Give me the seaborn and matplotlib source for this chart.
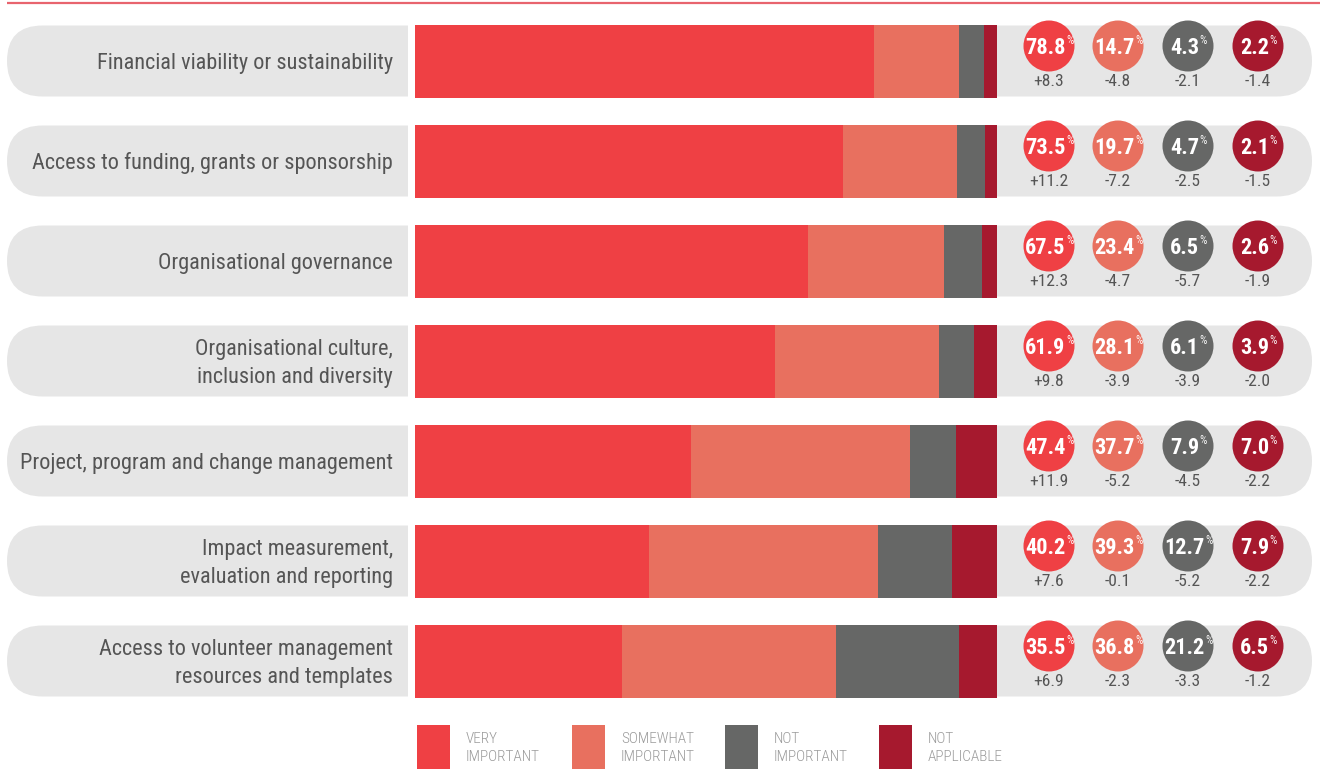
import numpy as np
import pandas as pd
import matplotlib
matplotlib.use("Agg")
import matplotlib.pyplot as plt
import seaborn as sns
from matplotlib import font_manager as fm
from matplotlib.patches import FancyBboxPatch, Rectangle, Circle

# ---------------- data ----------------
categories = [
    "Financial viability or sustainability",
    "Access to funding, grants or sponsorship",
    "Organisational governance",
    "Organisational culture,\ninclusion and diversity",
    "Project, program and change management",
    "Impact measurement,\nevaluation and reporting",
    "Access to volunteer management\nresources and templates",
]
very_important = [78.8, 73.5, 67.5, 61.9, 47.4, 40.2, 35.5]
somewhat_important = [14.7, 19.7, 23.4, 28.1, 37.7, 39.3, 36.8]
not_important = [4.3, 4.7, 6.5, 6.1, 7.9, 12.7, 21.2]
not_applicable = [2.2, 2.1, 2.6, 3.9, 7.0, 7.9, 6.5]

change_very = ["+8.3", "+11.2", "+12.3", "+9.8", "+11.9", "+7.6", "+6.9"]
change_somewhat = ["-4.8", "-7.2", "-4.7", "-3.9", "-5.2", "-0.1", "-2.3"]
change_not = ["-2.1", "-2.5", "-5.7", "-3.9", "-4.5", "-5.2", "-3.3"]
change_na = ["-1.4", "-1.5", "-1.9", "-2.0", "-2.2", "-2.2", "-1.2"]

series_labels = ["VERY\nIMPORTANT", "SOMEWHAT\nIMPORTANT", "NOT\nIMPORTANT", "NOT\nAPPLICABLE"]
colors = ["#EF4044", "#E8705F", "#666766", "#A6192E"]


def pick(fams):
    for f in fams:
        try:
            fm.findfont(fm.FontProperties(family=f), fallback_to_default=False)
            return f
        except Exception:
            pass
    return "DejaVu Sans"


sns.set_theme(style="white")
FONT = pick(["Roboto Condensed", "Roboto", "DejaVu Sans"])
plt.rcParams["font.family"] = [FONT, "DejaVu Sans"]
COND = FONT == "Roboto Condensed"

W, H = 1320, 769
fig = plt.figure(figsize=(W / 100, H / 100), dpi=100)
fig.patch.set_facecolor("white")

# background / annotation axes in pixel coordinates
bg = fig.add_axes([0, 0, 1, 1])
bg.set_xlim(0, W)
bg.set_ylim(H, 0)
bg.axis("off")

# top rule
bg.plot([7, W], [3, 3], color="#E8646E", lw=1.6, solid_capstyle="butt")

ROW0, PITCH = 61, 100
BAR_L, BAR_R = 415, 997
n = len(categories)

for i in range(n):
    cy = ROW0 + PITCH * i
    pill = FancyBboxPatch((7, cy - 35.5), 1305, 71,
                          boxstyle="round,pad=0,rounding_size=35.5",
                          fc="#E6E6E6", ec="none", zorder=1)
    bg.add_patch(pill)
    bg.add_patch(Rectangle((408, cy - 38), BAR_L - 408, 76, fc="white", ec="none", zorder=2))
    bg.text(393, cy + 2.5, categories[i], ha="right", va="center",
            fontsize=16.05 if COND else 14.5, color="#555555", linespacing=1.45, zorder=3)

# ---------------- stacked bars (seaborn) ----------------
ax = fig.add_axes([BAR_L / W, 1 - (ROW0 + PITCH * (n - 0.5)) / H,
                   (BAR_R - BAR_L) / W, PITCH * n / H])
ax.patch.set_alpha(0)
df = pd.DataFrame({
    "category": categories,
    "very": very_important,
    "somewhat": somewhat_important,
    "not": not_important,
    "na": not_applicable,
})
cum = df[["very", "somewhat", "not", "na"]].cumsum(axis=1)
for col, c in zip(["na", "not", "somewhat", "very"], colors[::-1]):
    sns.barplot(x=cum[col], y=df["category"], orient="h", color=c,
                saturation=1, width=0.73, ax=ax, linewidth=0)
ax.set_xlim(0, 100)
ax.set_ylim(n - 0.5, -0.5)
ax.axis("off")

# ---------------- circles with values and changes ----------------
circ_x = [1049, 1118, 1188, 1258]
values = [very_important, somewhat_important, not_important, not_applicable]
changes = [change_very, change_somewhat, change_not, change_na]
fig.canvas.draw()
for i in range(n):
    cy = ROW0 + PITCH * i
    ccy = cy - 15
    for k in range(4):
        cx = circ_x[k]
        bg.add_patch(Circle((cx, ccy), 25.5, fc=colors[k], ec="none", zorder=4))
        t = bg.text(cx - 3.5, ccy + 1.5, f"{values[k][i]:.1f}", ha="center", va="center",
                    fontsize=16, fontweight="bold", color="white", zorder=5)
        bg.annotate("%", xy=(1, 1), xycoords=t, xytext=(0.3, 1.5), textcoords="offset points",
                    ha="left", va="top", fontsize=8.5, color="#FFFFFF", alpha=0.92, zorder=5)
        bg.text(cx, cy + 21, changes[k][i], ha="center", va="center",
                fontsize=12.6, color="#555555", zorder=5)

# ---------------- legend ----------------
leg_x = [417, 572, 725, 879]
for k in range(4):
    bg.add_patch(Rectangle((leg_x[k], 725), 33, 50, fc=colors[k], ec="none", zorder=3))
    bg.text(leg_x[k] + 49, 748, series_labels[k], ha="left", va="center",
            fontsize=11, fontweight="light", color="#9B9B9B", linespacing=1.38, zorder=3)

fig.savefig("out.png", dpi=100, facecolor="white")
